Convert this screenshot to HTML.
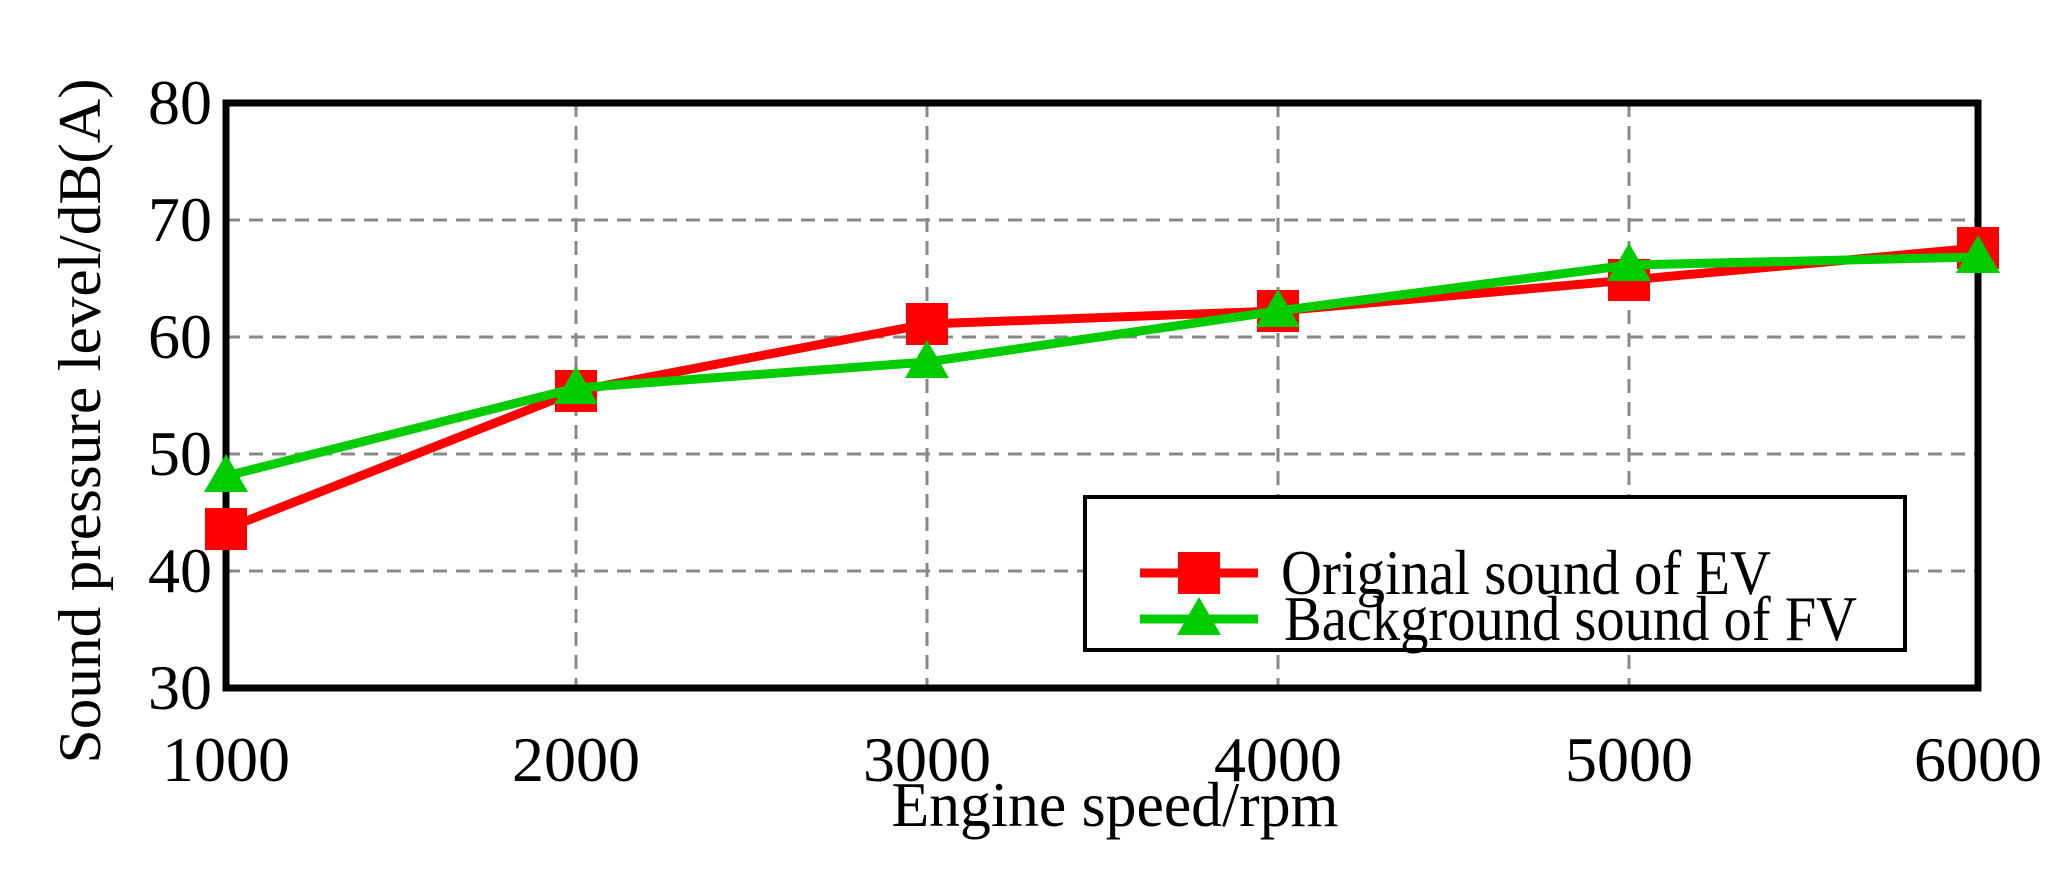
<!DOCTYPE html>
<html><head><style>body{margin:0;background:#fff}svg{display:block}</style></head><body>
<svg width="2055" height="884" xmlns="http://www.w3.org/2000/svg" font-family="Liberation Serif, serif">
<rect width="2055" height="884" fill="#fff"/>
<g stroke="#888" stroke-width="3" stroke-dasharray="14,9">
<line x1="226" y1="220" x2="1978" y2="220"/>
<line x1="226" y1="337" x2="1978" y2="337"/>
<line x1="226" y1="454" x2="1978" y2="454"/>
<line x1="226" y1="571" x2="1978" y2="571"/>
<line x1="576" y1="103" x2="576" y2="688"/>
<line x1="927" y1="103" x2="927" y2="688"/>
<line x1="1278" y1="103" x2="1278" y2="688"/>
<line x1="1629" y1="103" x2="1629" y2="688"/>
</g>
<rect x="226" y="103" width="1752" height="585" fill="none" stroke="#000" stroke-width="7"/>
<polyline fill="none" stroke="#f00" stroke-width="9" points="226,529 576,391 927,324 1278,311 1629,280 1978,248"/>
<g fill="#f00">
<rect x="205" y="508" width="42" height="42"/><rect x="555" y="370" width="42" height="42"/><rect x="906" y="303" width="42" height="42"/><rect x="1257" y="290" width="42" height="42"/><rect x="1608" y="259" width="42" height="42"/><rect x="1957" y="227" width="42" height="42"/>
</g>
<polyline fill="none" stroke="#0c0" stroke-width="9" points="226,476 576,388 927,362 1278,311 1629,265 1978,257"/>
<g fill="#0c0">
<polygon points="226,454 248,492 204,492"/><polygon points="576,366 598,404 554,404"/><polygon points="927,340 949,378 905,378"/><polygon points="1278,289 1300,327 1256,327"/><polygon points="1629,243 1651,281 1607,281"/><polygon points="1978,235 2000,273 1956,273"/>
</g>
<rect x="1085" y="497" width="820" height="153" fill="#fff" stroke="#000" stroke-width="4"/>
<line x1="1140" y1="573" x2="1258" y2="573" stroke="#f00" stroke-width="9"/>
<rect x="1178" y="552" width="42" height="42" fill="#f00"/>
<line x1="1140" y1="619" x2="1258" y2="619" stroke="#0c0" stroke-width="9"/>
<polygon points="1199,597 1221,635 1177,635" fill="#0c0"/>
<g font-size="64" fill="#000">
<text x="1281" y="594" textLength="490" lengthAdjust="spacingAndGlyphs">Original sound of EV</text>
<text x="1284" y="640" textLength="573" lengthAdjust="spacingAndGlyphs">Background sound of FV</text>
</g>
<g font-size="64" text-anchor="end">
<text x="212" y="124">80</text><text x="212" y="241">70</text><text x="212" y="358">60</text><text x="212" y="475">50</text><text x="212" y="592">40</text><text x="212" y="709">30</text>
</g>
<g font-size="64" text-anchor="middle">
<text x="226" y="781">1000</text><text x="576" y="781">2000</text><text x="927" y="781">3000</text><text x="1278" y="781">4000</text><text x="1629" y="781">5000</text><text x="1978" y="781">6000</text>
<text x="1115" y="826" textLength="447" lengthAdjust="spacingAndGlyphs">Engine speed/rpm</text>
<text font-size="60" transform="translate(100,421) rotate(-90)" textLength="685" lengthAdjust="spacingAndGlyphs">Sound pressure level/dB(A)</text>
</g>
</svg>
</body></html>
